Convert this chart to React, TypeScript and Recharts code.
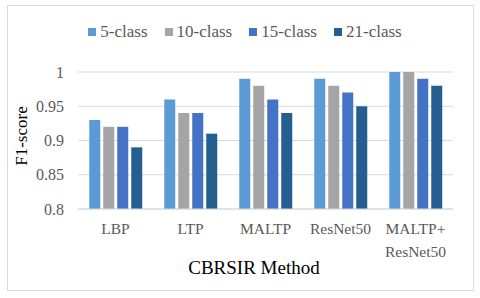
import { BarChart, Bar, XAxis, YAxis, CartesianGrid } from 'recharts';

const methods = ['LBP', 'LTP', 'MALTP', 'ResNet50', 'MALTP+\nResNet50'];
const class5 = [0.93, 0.96, 0.99, 0.99, 1.0];
const class10 = [0.92, 0.94, 0.98, 0.98, 1.0];
const class15 = [0.92, 0.94, 0.96, 0.97, 0.99];
const class21 = [0.89, 0.91, 0.94, 0.95, 0.98];
const yTicks = [0.8, 0.85, 0.9, 0.95, 1];

const seriesNames = ['5-class', '10-class', '15-class', '21-class'];
const seriesColors = ['#5b9bd5', '#a5a5a5', '#4472c4', '#255e91'];

const data = methods.map((name, i) => ({
  name,
  c5: class5[i],
  c10: class10[i],
  c15: class15[i],
  c21: class21[i]
}));

const FONT = '"Liberation Serif", "Times New Roman", serif';

const MethodTick = ({ x, y, payload }: any) => {
  const lines = String(payload.value).split('\n');
  return (
    <text x={x} y={y} textAnchor="middle" fill="#595959" fontSize={15.5} fontFamily={FONT}>
      {lines.map((l, i) => (
        <tspan key={i} x={x} dy={i === 0 ? 17 : 23}>
          {l}
        </tspan>
      ))}
    </text>
  );
};

export default function App() {
  const keys = ['c5', 'c10', 'c15', 'c21'];
  return (
    <div style={{ position: 'absolute', left: 0, top: 0, width: 480, height: 298, background: '#fff' }}>
      <div
        style={{
          position: 'absolute',
          left: 7,
          top: 5,
          width: 467,
          height: 286,
          border: '1px solid #d9d9d9',
          boxSizing: 'border-box'
        }}
      />
      <BarChart
        width={480}
        height={298}
        data={data}
        margin={{ top: 72, right: 27, left: 0, bottom: 39 }}
        barCategoryGap="15%"
        barGap={3}
        style={{ position: 'absolute', left: 0, top: 0 }}
      >
        <CartesianGrid vertical={false} stroke="#d9d9d9" />
        <XAxis
          dataKey="name"
          height={50}
          interval={0}
          tickLine={false}
          axisLine={{ stroke: '#d9d9d9' }}
          tick={<MethodTick />}
        />
        <YAxis
          width={78}
          domain={[0.8, 1]}
          ticks={yTicks}
          tickFormatter={(v: number) => String(v)}
          axisLine={false}
          tickLine={false}
          tickSize={0}
          tickMargin={14}
          tick={{ fill: '#595959', fontSize: 16, fontFamily: FONT }}
        />
        {keys.map((k, i) => (
          <Bar key={k} dataKey={k} name={seriesNames[i]} fill={seriesColors[i]} isAnimationActive={false} />
        ))}
      </BarChart>
      {/* legend */}
      <div
        style={{
          position: 'absolute',
          top: 22,
          left: 0,
          width: 480,
          display: 'flex',
          justifyContent: 'center',
          paddingLeft: 10,
          boxSizing: 'border-box',
          fontFamily: FONT,
          fontSize: 17,
          color: '#595959',
          gap: 17
        }}
      >
        {seriesNames.map((n, i) => (
          <div key={n} style={{ display: 'flex', alignItems: 'center' }}>
            <span style={{ width: 8, height: 8, background: seriesColors[i], display: 'inline-block', marginRight: 4 }} />
            <span>{n}</span>
          </div>
        ))}
      </div>
      <div
        style={{
          position: 'absolute',
          left: 22,
          top: 136,
          transform: 'translate(-50%, -50%) rotate(-90deg)',
          fontFamily: FONT,
          fontSize: 17,
          color: '#000',
          whiteSpace: 'nowrap'
        }}
      >
        F1-score
      </div>
      <div
        style={{
          position: 'absolute',
          left: 254,
          top: 268,
          transform: 'translate(-50%, -50%)',
          fontFamily: FONT,
          fontSize: 19,
          color: '#000',
          whiteSpace: 'nowrap'
        }}
      >
        CBRSIR Method
      </div>
    </div>
  );
}
